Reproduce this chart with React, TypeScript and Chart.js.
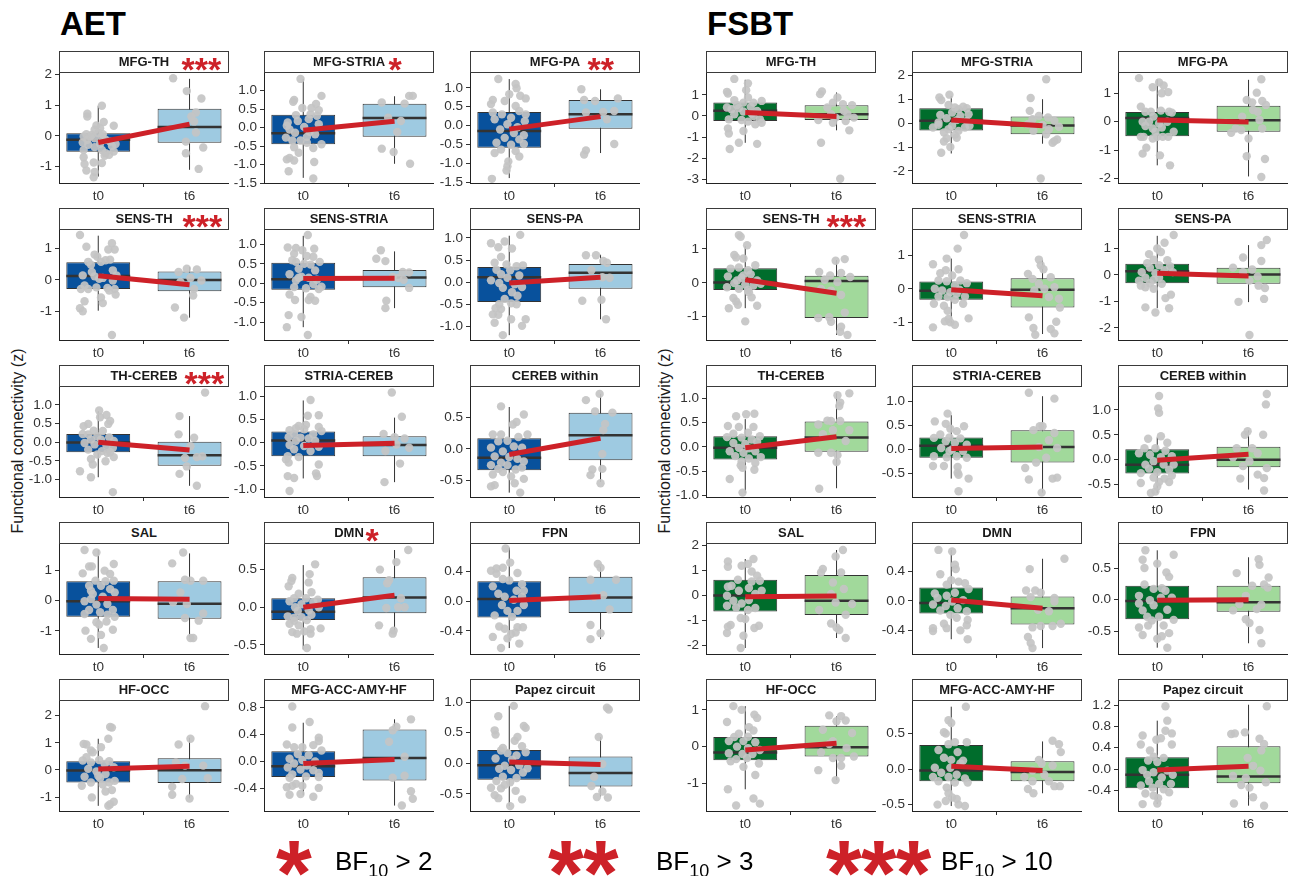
import React, { useEffect, useRef } from "react";
import { Chart, registerables } from "chart.js";

Chart.register(...registerables);

// ---- data -------------------------------------------------------------

const regions = [
  "MFG-TH", "MFG-STRIA", "MFG-PA",
  "SENS-TH", "SENS-STRIA", "SENS-PA",
  "TH-CEREB", "STRIA-CEREB", "CEREB within",
  "SAL", "DMN", "FPN",
  "HF-OCC", "MFG-ACC-AMY-HF", "Papez circuit",
];
const timepoints = ["t0", "t6"];

// number of asterisks per region (BF10 > 2, > 3, > 10)
const aetStars = [3, 1, 2, 3, 0, 0, 3, 0, 0, 0, 1, 0, 0, 0, 0];
const fsbtStars = [0, 0, 0, 3, 0, 0, 0, 0, 0, 0, 0, 0, 0, 0, 0];

// y axis limits per region
const aetYRange = [
  [-1.54, 2.05], [-1.5, 1.48], [-1.51, 1.39],
  [-1.91, 1.58], [-1.46, 1.37], [-1.31, 1.18],
  [-1.47, 1.48], [-1.17, 1.2], [-0.77, 0.99],
  [-1.76, 1.87], [-0.62, 0.84], [-0.71, 0.77],
  [-1.51, 2.54], [-0.73, 0.89], [-0.78, 1.02],
];
const fsbtYRange = [
  [-3.17, 2.03], [-2.51, 2.11], [-2.15, 1.71],
  [-1.69, 1.56], [-1.54, 1.77], [-2.46, 1.69],
  [-1.03, 1.23], [-0.98, 1.29], [-0.75, 1.46],
  [-2.33, 2.07], [-0.72, 0.77], [-0.86, 0.88],
  [-1.75, 1.24], [-0.59, 0.96], [-0.79, 1.28],
];

// y tick labels per region
const aetYTicks = [
  ["-1", "0", "1", "2"],
  ["-1.5", "-1.0", "-0.5", "0.0", "0.5", "1.0"],
  ["-1.5", "-1.0", "-0.5", "0.0", "0.5", "1.0"],
  ["-1", "0", "1"],
  ["-1.0", "-0.5", "0.0", "0.5", "1.0"],
  ["-1.0", "-0.5", "0.0", "0.5", "1.0"],
  ["-1.0", "-0.5", "0.0", "0.5", "1.0"],
  ["-1.0", "-0.5", "0.0", "0.5", "1.0"],
  ["-0.5", "0.0", "0.5"],
  ["-1", "0", "1"],
  ["-0.5", "0.0", "0.5"],
  ["-0.4", "0.0", "0.4"],
  ["-1", "0", "1", "2"],
  ["-0.4", "0.0", "0.4", "0.8"],
  ["-0.5", "0.0", "0.5", "1.0"],
];
const fsbtYTicks = [
  ["-3", "-2", "-1", "0", "1"],
  ["-2", "-1", "0", "1", "2"],
  ["-2", "-1", "0", "1"],
  ["-1", "0", "1"],
  ["-1", "0", "1"],
  ["-2", "-1", "0", "1"],
  ["-1.0", "-0.5", "0.0", "0.5", "1.0"],
  ["-0.5", "0.0", "0.5", "1.0"],
  ["-0.5", "0.0", "0.5", "1.0"],
  ["-2", "-1", "0", "1", "2"],
  ["-0.4", "0.0", "0.4"],
  ["-0.5", "0.0", "0.5"],
  ["-1", "0", "1"],
  ["-0.5", "0.0", "0.5"],
  ["-0.4", "0.0", "0.4", "0.8", "1.2"],
];

// box statistics: [lower whisker, Q1, median, Q3, upper whisker]
const aetBoxT0 = [
  [-1.33, -0.52, -0.13, 0.08, 0.98], [-1.36, -0.45, -0.15, 0.35, 1.32], [-1.38, -0.58, -0.14, 0.36, 1.23],
  [-0.98, -0.29, 0.12, 0.56, 1.4], [-1.13, -0.17, 0.1, 0.53, 1.22], [-1.2, -0.45, 0.11, 0.34, 1.05],
  [-0.94, -0.27, -0.01, 0.22, 0.83], [-0.77, -0.29, 0.05, 0.24, 0.91], [-0.7, -0.34, -0.14, 0.17, 0.67],
  [-1.56, -0.53, -0.02, 0.64, 1.67], [-0.56, -0.17, -0.06, 0.12, 0.56], [-0.63, -0.22, 0.03, 0.27, 0.72],
  [-1.32, -0.46, -0.02, 0.32, 1.15], [-0.5, -0.23, -0.07, 0.15, 0.57], [-0.7, -0.27, -0.03, 0.22, 0.94],
];
const aetBoxT6 = [
  [-1.11, -0.23, 0.29, 0.88, 1.86], [-0.98, -0.25, 0.26, 0.65, 0.85], [-0.72, -0.08, 0.3, 0.68, 0.96],
  [-1.2, -0.36, -0.01, 0.26, 0.41], [-0.64, -0.1, 0.15, 0.34, 0.82], [-0.84, -0.15, 0.21, 0.41, 0.62],
  [-1.17, -0.63, -0.35, 0.01, 0.7], [-0.85, -0.29, -0.05, 0.14, 0.54], [-0.53, -0.18, 0.22, 0.58, 0.88],
  [-1.23, -0.6, -0.1, 0.64, 1.56], [-0.33, -0.08, 0.13, 0.4, 0.76], [-0.51, -0.16, 0.05, 0.33, 0.5],
  [-1.04, -0.48, -0.01, 0.43, 1.19], [-0.65, -0.28, 0.05, 0.47, 0.62], [-0.55, -0.38, -0.16, 0.11, 0.43],
];
const fsbtBoxT0 = [
  [-1.27, -0.24, 0.24, 0.63, 1.71], [-1.27, -0.3, 0.1, 0.63, 1.15], [-1.53, -0.51, 0.13, 0.34, 1.49],
  [-0.75, -0.21, 0.01, 0.43, 1.08], [-1.08, -0.33, -0.06, 0.22, 0.91], [-1.26, -0.32, 0.13, 0.42, 1.47],
  [-0.95, -0.26, -0.02, 0.22, 0.57], [-0.6, -0.17, 0.08, 0.25, 0.71], [-0.67, -0.28, -0.1, 0.21, 0.45],
  [-2.09, -0.63, 0.01, 0.64, 1.47], [-0.52, -0.17, -0.03, 0.18, 0.69], [-0.76, -0.31, -0.02, 0.22, 0.78],
  [-1.16, -0.37, -0.16, 0.26, 1.1], [-0.52, -0.17, -0.02, 0.34, 0.88], [-0.66, -0.36, -0.11, 0.22, 0.91],
];
const fsbtBoxT6 = [
  [-0.68, -0.19, 0.08, 0.51, 1.11], [-0.86, -0.46, -0.1, 0.28, 1.01], [-1.92, -0.35, 0.05, 0.56, 1.47],
  [-1.54, -1.04, 0.05, 0.21, 0.67], [-1.36, -0.56, -0.03, 0.32, 0.86], [-1.03, -0.34, 0.01, 0.27, 1.12],
  [-0.85, -0.1, 0.19, 0.52, 1.1], [-0.89, -0.27, 0.05, 0.4, 1.1], [-0.6, -0.15, 0.0, 0.26, 0.59],
  [-1.69, -0.77, -0.2, 0.83, 1.83], [-0.64, -0.32, -0.1, 0.06, 0.57], [-0.69, -0.19, -0.04, 0.22, 0.67],
  [-0.91, -0.27, -0.02, 0.57, 0.82], [-0.34, -0.17, -0.04, 0.11, 0.39], [-0.69, -0.27, -0.14, 0.43, 1.21],
];

// group means at t0 and t6
const aetMeans = [
  [-0.22, 0.38], [-0.07, 0.17], [-0.09, 0.24],
  [0.13, -0.16], [0.12, 0.13], [-0.02, 0.11],
  [0.0, -0.21], [-0.06, -0.01], [-0.09, 0.17],
  [0.07, 0.05], [0.0, 0.16], [0.01, 0.06],
  [0.04, 0.14], [-0.03, 0.03], [0.02, -0.02],
];
const fsbtMeans = [
  [0.16, -0.03], [0.14, -0.11], [0.06, -0.01],
  [0.09, -0.31], [-0.03, -0.21], [0.06, -0.05],
  [-0.02, 0.21], [0.02, 0.05], [-0.01, 0.11],
  [-0.04, -0.01], [0.01, -0.1], [-0.01, 0.0],
  [-0.09, 0.09], [0.04, -0.02], [-0.02, 0.05],
];

// individual subjects: [horizontal jitter, value]
const aetT0Points = [
  [[0.04,0.98],[-0.12,0.72],[-0.12,0.63],[0.06,0.45],[-0.02,0.34],[0.02,0.25],[-0.04,0.2],[0.17,0.33],[-0.13,0.05],[-0.16,-0.02],[-0.09,-0.02],[-0.12,-0.13],[-0.17,-0.22],[-0.04,-0.08],[0.04,-0.02],[0.08,-0.13],[0.02,-0.26],[0.13,-0.19],[0.19,-0.27],[-0.04,-0.37],[0.04,-0.46],[0.08,-0.57],[0.12,-0.62],[0.07,-0.65],[0.17,-0.51],[-0.16,-0.7],[-0.15,-0.92],[-0.05,-0.87],[0.04,-0.89],[-0.13,-1.13],[-0.04,-1.18],[-0.05,-1.35],[-0.07,0.03],[0,0.09],[0.05,0.05],[-0.11,-0.29],[0.15,-0.33],[-0.16,-0.46]],
  [[-0.03,1.32],[-0.1,0.75],[-0.11,0.7],[0.2,0.86],[0.14,0.64],[0.09,0.53],[0.17,0.47],[-0.01,0.53],[-0.08,0.34],[0.08,0.36],[0.15,0.32],[-0.17,0.14],[-0.06,0.18],[0.01,0.02],[-0.15,-0.05],[0.07,-0.11],[-0.09,-0.14],[0.13,-0.18],[-0.19,-0.27],[-0.03,-0.35],[0.04,-0.41],[0.2,-0.45],[-0.1,-0.53],[0.11,-0.55],[-0.05,-0.68],[-0.15,-0.82],[-0.18,-0.86],[-0.1,-0.89],[0.12,-0.93],[-0.16,-1.18],[0.11,-1.38],[0.04,-0.25],[-0.12,-0.35],[0.17,0.09],[0.06,0.23],[-0.18,0.05]],
  [[-0.12,1.23],[0.07,1.1],[0.08,0.99],[0.12,0.79],[0,0.83],[-0.18,0.68],[-0.05,0.65],[0.18,0.72],[0.07,0.52],[-0.18,0.35],[0.11,0.39],[-0.08,0.3],[0.02,0.21],[-0.16,0.17],[0.17,0.12],[-0.02,0.04],[0.09,-0.04],[-0.1,-0.1],[0.05,-0.19],[0.16,-0.25],[-0.05,-0.32],[0.11,-0.36],[-0.14,-0.45],[0.02,-0.5],[0.16,-0.48],[-0.09,-0.63],[0.07,-0.67],[-0.16,-0.72],[0.11,-0.81],[-0.01,-0.94],[-0.02,-1.07],[-0.03,-1.18],[-0.19,-1.4],[-0.2,0.57],[0.18,0.3]],
  [[-0.2,1.42],[-0.13,1.05],[0.15,1.16],[0.18,0.96],[0.11,0.96],[-0.04,0.8],[-0.01,0.73],[-0.11,0.57],[-0.08,0.48],[0.08,0.62],[0.13,0.64],[0.03,0.57],[0.16,0.3],[-0.07,0.25],[-0.17,0.14],[-0.04,0.11],[0.05,0.06],[0.16,-0.02],[-0.15,-0.18],[-0.19,-0.29],[-0.11,-0.29],[-0.02,-0.24],[0.1,-0.26],[0.12,-0.34],[0.18,-0.29],[0.19,-0.47],[0.03,-0.56],[-0.15,-0.68],[0.05,-0.74],[-0.2,-0.9],[-0.17,-1.0],[0.15,-1.75],[0.01,0.03],[0.2,0.14]],
  [[0.05,1.24],[-0.17,0.92],[-0.08,0.91],[-0.01,0.85],[0.12,0.89],[-0.1,0.76],[0.04,0.7],[0.11,0.68],[-0.12,0.59],[-0.08,0.55],[0.01,0.5],[0.08,0.48],[0.18,0.55],[-0.05,0.37],[0.13,0.33],[-0.15,0.23],[-0.02,0.17],[0.06,0.14],[-0.08,0.07],[0.15,0.09],[0.11,-0.02],[0.2,-0.09],[-0.1,-0.1],[0.03,-0.13],[0.17,-0.15],[-0.15,-0.29],[0.08,-0.35],[-0.09,-0.43],[0.06,-0.43],[0.13,-0.45],[-0.16,-0.82],[-0.02,-0.87],[-0.18,-1.13],[0.05,-1.33],[-0.05,0.14]],
  [[0.12,1.07],[-0.05,0.92],[-0.2,0.88],[-0.12,0.79],[0.03,0.76],[-0.09,0.57],[-0.16,0.44],[-0.03,0.4],[0.08,0.36],[0.15,0.38],[-0.14,0.28],[0.01,0.27],[-0.09,0.18],[0.11,0.15],[-0.02,0.1],[-0.2,0.04],[-0.11,-0.02],[0.06,-0.05],[-0.07,-0.13],[0.14,-0.11],[0.03,-0.23],[0.09,-0.31],[-0.05,-0.38],[0.02,-0.48],[-0.11,-0.5],[0.08,-0.5],[-0.15,-0.59],[-0.09,-0.61],[-0.12,-0.74],[-0.18,-0.73],[0.18,-0.84],[0.02,-0.84],[-0.16,-0.92],[0.14,-0.99],[-0.07,-1.2]],
  [[0.01,0.85],[0.02,0.67],[0.09,0.73],[0.13,0.57],[-0.11,0.49],[-0.16,0.43],[0.11,0.49],[-0.05,0.31],[0.05,0.3],[-0.17,0.22],[-0.11,0.21],[-0.01,0.16],[0.12,0.13],[-0.08,0.07],[0.03,0.07],[0.17,0.03],[-0.15,-0.02],[-0.04,-0.06],[0.09,-0.09],[0.16,-0.15],[-0.11,-0.2],[0.04,-0.24],[0.13,-0.27],[-0.01,-0.33],[0.17,-0.4],[-0.08,-0.45],[0.08,-0.51],[-0.06,-0.6],[-0.2,-0.78],[-0.08,-0.94],[0.16,-1.34],[0.1,-0.29]],
  [[0.08,0.92],[0.05,0.58],[0.17,0.59],[0.03,0.38],[-0.05,0.36],[-0.08,0.31],[0.17,0.34],[-0.15,0.27],[0.01,0.29],[0.2,0.25],[-0.1,0.19],[0.11,0.18],[-0.16,0.12],[-0.03,0.11],[0.06,0.09],[-0.08,0.04],[0.13,0.04],[-0.15,-0.05],[0.01,-0.07],[0.17,-0.09],[-0.1,-0.14],[0.08,-0.18],[-0.17,-0.29],[-0.05,-0.31],[-0.16,-0.43],[0.17,-0.47],[-0.19,-0.36],[0.14,-0.66],[0.15,-0.72],[-0.17,-0.72],[-0.1,-0.76],[-0.15,-1.04]],
  [[-0.09,0.68],[0.16,0.55],[0.08,0.43],[0.04,0.39],[-0.18,0.23],[-0.09,0.23],[-0.02,0.13],[0.1,0.19],[-0.12,0.12],[-0.2,0.02],[0.05,0.04],[0.14,0.02],[-0.07,-0.04],[-0.16,-0.12],[0,-0.13],[0.09,-0.16],[0.16,-0.2],[-0.09,-0.22],[-0.2,-0.26],[-0.02,-0.26],[-0.12,-0.32],[0.07,-0.33],[0.14,-0.3],[-0.07,-0.37],[-0.18,-0.41],[0.02,-0.44],[0.16,-0.48],[0.06,-0.55],[-0.16,-0.58],[-0.2,-0.6],[0.12,-0.7],[0.2,0.23]],
  [[-0.15,1.67],[-0.02,1.59],[-0.1,1.13],[-0.07,1.13],[0.17,1.21],[-0.17,0.9],[0.07,0.99],[0.13,0.88],[-0.03,0.66],[0.08,0.64],[0.17,0.66],[-0.1,0.49],[0.03,0.49],[-0.08,0.33],[0.13,0.38],[0.18,0.27],[-0.06,0.22],[0.05,0.13],[-0.15,-0.02],[-0.02,-0.13],[0.1,-0.11],[-0.1,-0.31],[0.16,-0.31],[0.02,-0.38],[-0.15,-0.44],[0.1,-0.46],[0.18,-0.53],[-0.02,-0.71],[0.01,-0.79],[0.09,-0.69],[0.16,-0.96],[-0.14,-0.99],[0.03,-1.13],[-0.08,-1.26],[0.06,-1.56],[-0.08,0.05]],
  [[0.13,0.57],[0.07,0.44],[-0.12,0.39],[-0.13,0.35],[0.06,0.33],[-0.16,0.28],[-0.05,0.18],[0.09,0.2],[-0.1,0.12],[0.03,0.12],[0.16,0.1],[-0.15,0.08],[0.11,0.07],[-0.02,0.04],[-0.09,0],[0.17,0],[0.06,-0.04],[-0.06,-0.05],[-0.17,-0.12],[-0.1,-0.14],[0.09,-0.1],[-0.02,-0.13],[0.04,-0.17],[-0.15,-0.22],[-0.05,-0.24],[0.19,-0.28],[-0.12,-0.33],[0.01,-0.32],[0.08,-0.35],[-0.07,-0.35],[0.08,-0.29],[0.04,-0.54],[-0.1,-0.18]],
  [[-0.04,0.71],[0.01,0.52],[-0.2,0.41],[-0.14,0.44],[-0.07,0.45],[-0.14,0.37],[0.09,0.38],[-0.07,0.3],[0,0.28],[0.14,0.23],[-0.18,0.2],[0.08,0.14],[0.16,0.14],[-0.12,0.1],[-0.05,0.06],[0.14,0.06],[0.05,0.02],[-0.08,-0.05],[0.16,-0.05],[0.09,-0.13],[-0.02,-0.13],[-0.16,-0.19],[0.03,-0.21],[-0.11,-0.34],[0.09,-0.35],[0.15,-0.35],[-0.05,-0.37],[0.07,-0.42],[0.02,-0.44],[-0.18,-0.48],[-0.02,-0.5],[0.11,-0.57],[-0.09,-0.63]],
  [[0.15,1.56],[0.13,1.58],[0.11,1.15],[-0.16,0.96],[-0.13,0.94],[-0.08,0.72],[-0.06,0.65],[0.03,0.84],[-0.13,0.47],[-0.17,0.35],[-0.08,0.28],[0.01,0.37],[0.12,0.32],[0.07,0.22],[0.17,0.1],[-0.11,0.04],[-0.02,-0.05],[0.08,-0.15],[-0.15,-0.25],[0.02,-0.3],[-0.08,-0.46],[-0.18,-0.58],[0.12,-0.46],[0.05,-0.54],[0.18,-0.4],[0.08,-0.79],[0.15,-0.74],[-0.07,-1.01],[0.17,-1.17],[0.13,-1.26],[0.11,-1.32],[0,-0.21]],
  [[-0.12,0.81],[0.07,0.58],[-0.12,0.5],[0.17,0.35],[0.17,0.3],[-0.18,0.25],[-0.1,0.21],[-0.01,0.21],[0.11,0.24],[0.2,0.16],[-0.06,0.11],[0.06,0.09],[-0.15,0.04],[-0.01,0.02],[0.13,0],[-0.1,-0.03],[0.04,-0.06],[-0.17,-0.09],[-0.03,-0.12],[0.11,-0.13],[0.17,-0.17],[-0.12,-0.19],[0.03,-0.22],[-0.15,-0.24],[0.17,-0.23],[-0.08,-0.33],[-0.01,-0.36],[-0.12,-0.36],[-0.18,-0.38],[0.17,-0.39],[-0.03,-0.48],[0.11,-0.52],[-0.15,-0.49]],
  [[0.05,0.94],[-0.12,0.77],[-0.16,0.54],[-0.15,0.47],[0.16,0.61],[0.18,0.58],[0.09,0.43],[0.06,0.37],[-0.07,0.25],[-0.09,0.21],[0.14,0.28],[-0.02,0.17],[0.08,0.13],[0.18,0.18],[-0.15,0.08],[0.03,0.06],[-0.05,-0.04],[0.11,-0.03],[0.2,-0.08],[-0.11,-0.09],[0.02,-0.11],[0.15,-0.15],[-0.07,-0.22],[0.08,-0.24],[-0.14,-0.29],[0.01,-0.31],[-0.2,-0.4],[-0.09,-0.41],[-0.05,-0.35],[0.07,-0.45],[-0.12,-0.57],[-0.16,-0.52],[0.14,-0.59],[0.01,-0.7]],
];
const aetT6Points = [
  [[-0.18,1.88],[-0.03,1.46],[0.13,1.22],[0.07,0.76],[0.05,0.47],[0.07,0.11],[-0.04,-0.19],[0.15,-0.38],[-0.04,-0.57],[0.1,-1.08],[0.02,0.63]],
  [[-0.14,0.68],[0.11,0.65],[0.16,0.86],[0.2,0.86],[0.03,-0.12],[-0.14,-0.57],[-0.01,-0.66],[0.17,-0.98],[0.07,0.18],[-0.07,0.27]],
  [[-0.21,0.96],[-0.06,0.65],[-0.18,0.68],[0.03,0.36],[0.15,0.39],[0.19,0.72],[-0.16,0.35],[0.07,0.17],[-0.16,-0.65],[-0.18,-0.76],[0.15,-0.48]],
  [[-0.03,0.35],[0.08,0.33],[-0.12,0.25],[0.01,0.06],[0.05,-0.29],[0.04,-0.5],[-0.16,-0.88],[-0.06,-1.2],[0.13,-0.02],[-0.1,-0.07]],
  [[-0.15,0.85],[-0.2,0.63],[-0.1,0.57],[0.09,0.29],[0.16,0.28],[0.04,0.14],[0.1,0.09],[0.16,-0.12],[-0.09,-0.45],[-0.1,-0.64],[-0.02,0.16]],
  [[-0.16,0.61],[-0.05,0.61],[0.03,0.48],[0.07,0.44],[-0.1,0.27],[0.02,0.11],[0.1,0.1],[-0.2,-0.42],[0.01,-0.4],[0.06,-0.84]],
  [[0.17,1.33],[-0.11,0.7],[-0.12,0.21],[0.05,0.12],[0.01,-0.11],[0.08,-0.4],[0.14,-0.38],[-0.05,-0.42],[-0.03,-0.65],[-0.11,-0.85],[0.08,-1.17]],
  [[-0.03,1.08],[0.08,0.56],[-0.12,0.19],[0,0.12],[0.11,0.09],[0.02,-0.04],[-0.1,-0.18],[0.06,-0.45],[-0.11,-0.85],[0.16,-0.11]],
  [[-0.01,0.88],[-0.16,0.78],[0.13,0.58],[-0.06,0.6],[0.05,0.4],[0.03,0.3],[0.02,-0.08],[-0.09,-0.33],[0.02,-0.32],[-0.11,-0.42],[0,-0.55]],
  [[-0.07,1.59],[-0.19,1.23],[-0.05,0.69],[0.01,0.66],[0.15,0.66],[-0.1,0.27],[-0.18,-0.05],[-0.03,-0.11],[0.15,-0.42],[-0.05,-0.57],[0.1,-0.66],[0.04,-1.23],[0.01,-1.23]],
  [[0.15,0.76],[0.02,0.6],[-0.16,0.5],[-0.06,0.36],[-0.08,0.32],[0.11,0],[0.04,0],[-0.09,-0.01],[-0.17,-0.24],[-0.01,-0.31],[-0.02,-0.35],[0.07,0.12]],
  [[-0.03,0.5],[0,0.45],[-0.11,0.29],[0.17,0.29],[0.03,0.08],[-0.07,0.06],[0.1,-0.11],[-0.11,-0.32],[0,-0.43],[-0.11,-0.51]],
  [[0.01,1.15],[-0.12,0.94],[0.17,2.35],[-0.15,0.28],[-0.05,0.16],[0.15,0.16],[0.2,-0.3],[-0.08,-0.33],[-0.19,-0.62],[-0.19,-0.91],[0,-1.05]],
  [[0.18,0.62],[-0.02,0.46],[0.02,0.51],[-0.06,0.29],[0.11,0.07],[-0.02,-0.24],[0.11,-0.21],[0.18,-0.44],[0.2,-0.55],[0.08,-0.65]],
  [[0.09,0.88],[0.07,0.91],[-0.02,0.43],[0.02,-0.01],[-0.07,-0.22],[0.02,-0.46],[-0.1,-0.37],[0.08,-0.56],[-0.04,-0.55]],
];
const fsbtT0Points = [
  [[-0.12,1.75],[0.03,1.54],[-0.2,1.14],[-0.19,1.06],[0.01,1.22],[0.03,0.87],[-0.12,0.75],[0.18,0.71],[0.09,0.63],[-0.2,0.4],[-0.07,0.37],[0.06,0.43],[-0.02,0.21],[-0.12,0.08],[0.13,0.24],[0.09,0],[-0.18,-0.16],[-0.04,-0.19],[0.16,-0.16],[0.03,-0.27],[0.11,-0.4],[-0.19,-0.59],[-0.18,-0.83],[-0.02,-0.71],[-0.07,-1.27],[0.13,-1.32],[-0.17,-1.56],[0.18,-0.32],[-0.09,0.52],[-0.02,0.63],[0.07,0.11],[-0.15,0.32]],
  [[-0.13,1.08],[-0.11,0.97],[-0.02,1.2],[-0.03,0.77],[0.04,0.66],[0.13,0.69],[0.08,0.59],[0.17,0.63],[0.19,0.38],[-0.12,0.35],[0.01,0.45],[0.1,0.31],[-0.05,0.21],[0.06,0.13],[0.17,0.1],[-0.14,-0.07],[0.01,-0.11],[0.15,-0.18],[-0.03,-0.25],[0.08,-0.32],[-0.08,-0.39],[0.04,-0.49],[-0.05,-0.63],[0.06,-0.61],[-0.08,-0.77],[-0.01,-1],[-0.11,-1.24],[-0.14,0.03],[0.2,-0.11],[-0.2,-0.18]],
  [[-0.2,1.53],[-0.05,1.21],[0.02,1.38],[0.07,1.27],[0.05,1.0],[0.12,1.04],[-0.18,0.53],[-0.13,0.35],[-0.07,0.35],[0.04,0.39],[0.13,0.35],[0.16,0.32],[-0.04,0.18],[0.11,0],[-0.13,-0.15],[-0.05,-0.24],[0.05,-0.2],[0.18,-0.35],[-0.18,-0.53],[-0.15,-0.53],[-0.05,-0.59],[0,-0.53],[0.06,-0.53],[0.12,-0.53],[-0.12,-0.91],[-0.16,-1.12],[0.03,-1.18],[0.14,-1.53],[-0.09,0],[0.02,-0.06],[-0.16,0],[-0.02,-0.35]],
  [[-0.07,1.41],[-0.05,1.36],[0.02,1.11],[-0.12,0.82],[-0.1,0.75],[-0.02,0.72],[-0.16,0.42],[-0.07,0.45],[0.03,0.37],[0.11,0.52],[0.06,0.25],[-0.19,0.19],[-0.04,0.15],[0.13,0.07],[-0.12,-0.01],[0,-0.05],[0.09,-0.08],[-0.2,-0.13],[-0.07,-0.18],[0.03,-0.21],[0.17,-0.03],[-0.13,-0.45],[0.04,-0.28],[-0.1,-0.55],[-0.08,-0.65],[0.13,-0.68],[-0.18,-0.75],[0,-1.14],[-0.02,0.22],[-0.09,0.07],[0.07,-0.43]],
  [[0.14,1.62],[0.07,1.21],[-0.05,0.91],[-0.2,0.74],[-0.06,0.56],[0.08,0.59],[-0.12,0.47],[0.01,0.4],[0.1,0.25],[-0.14,0.25],[-0.05,0.23],[0.17,0.17],[0.04,0.1],[-0.18,0],[-0.1,-0.05],[-0.01,-0.1],[0.09,-0.03],[0.15,-0.23],[-0.14,-0.23],[-0.04,-0.25],[0.04,-0.33],[0.13,-0.45],[-0.19,-0.45],[-0.08,-0.51],[-0.04,-0.66],[0.19,-0.89],[-0.03,-0.91],[-0.01,-1.01],[-0.07,-0.98],[0.04,-1.08],[-0.2,-1.16],[0.06,-0.15]],
  [[0.18,1.5],[0.08,1.21],[0,0.99],[-0.09,0.78],[0.04,0.86],[-0.04,0.57],[-0.11,0.44],[0.11,0.55],[0.02,0.36],[-0.08,0.27],[0.14,0.32],[-0.17,0.1],[-0.02,0.06],[0.08,0.17],[0.17,0.1],[-0.13,-0.11],[0.02,-0.11],[-0.18,-0.41],[-0.08,-0.32],[0.05,-0.34],[-0.04,-0.53],[-0.13,-0.47],[0.15,-0.75],[0.09,-0.88],[-0.13,-1.23],[0.13,-1.26],[-0.02,-1.42],[-0.04,-0.19],[-0.2,-0.22]],
  [[0.01,0.67],[0.1,0.68],[-0.1,0.63],[-0.19,0.43],[-0.07,0.41],[0.09,0.41],[-0.13,0.27],[0.03,0.29],[0.16,0.22],[-0.2,0.2],[-0.04,0.19],[0.07,0.15],[-0.13,0.08],[0,0.06],[0.13,0.1],[-0.07,-0.02],[0.04,-0.03],[-0.17,-0.09],[0.11,-0.09],[-0.02,-0.12],[-0.11,-0.19],[0.17,-0.21],[0.04,-0.24],[-0.04,-0.3],[0.11,-0.33],[-0.05,-0.38],[-0.03,-0.43],[0.1,-0.47],[-0.17,-0.66],[-0.03,-0.94]],
  [[-0.04,0.74],[-0.18,0.58],[-0.06,0.53],[0.14,0.48],[-0.01,0.43],[0.06,0.38],[-0.12,0.31],[-0.02,0.25],[0.1,0.23],[-0.19,0.24],[-0.06,0.17],[0.04,0.14],[0.17,0.1],[-0.11,0.03],[0.01,0],[0.13,-0.03],[-0.19,-0.14],[-0.05,-0.16],[0.06,-0.14],[0.17,-0.17],[-0.08,-0.34],[-0.2,-0.34],[0.07,-0.36],[0.07,-0.48],[0.08,-0.52],[0.19,-0.6],[0.08,-0.86],[-0.02,-0.03]],
  [[0.02,1.28],[0.01,1.03],[0.02,0.94],[0.04,0.47],[-0.1,0.42],[-0.14,0.23],[0.11,0.34],[-0.02,0.23],[0.09,0.18],[-0.2,0.13],[-0.08,0.1],[0.04,0.05],[0.16,0.07],[-0.04,-0.03],[-0.13,-0.1],[0.07,-0.1],[0.18,-0.1],[-0.09,-0.18],[0.13,-0.2],[0,-0.25],[-0.18,-0.27],[0.16,-0.32],[-0.04,-0.36],[0.08,-0.38],[0.02,-0.45],[0.13,-0.45],[-0.18,-0.47],[0,-0.54],[-0.02,-0.64],[-0.07,-0.67]],
  [[0.09,1.47],[-0.19,1.37],[-0.19,1.16],[-0.04,1.2],[0.03,1.27],[0.07,0.97],[0.13,0.8],[-0.08,0.64],[0.16,0.6],[0.07,0.57],[-0.19,0.36],[-0.15,0.4],[0.04,0.31],[0.18,0.2],[-0.07,0.2],[0.11,0.07],[-0.2,0],[-0.13,-0.2],[0.04,-0.17],[-0.04,-0.31],[-0.2,-0.4],[-0.1,-0.47],[0.03,-0.57],[0.11,-0.49],[-0.05,-0.89],[0,-0.93],[-0.16,-1.17],[-0.19,-1.24],[0.15,-1.2],[0.1,-1.29],[-0.02,-1.6],[-0.2,-1.49],[-0.05,-2.09]],
  [[-0.14,0.69],[0.01,0.67],[0.04,0.49],[0.05,0.43],[-0.12,0.36],[0,0.28],[0.08,0.26],[0.15,0.24],[-0.05,0.22],[0.19,0.16],[-0.18,0.1],[0.04,0.11],[-0.05,0.07],[-0.15,0.04],[0.13,0.01],[0.01,-0.01],[-0.2,-0.05],[-0.06,-0.07],[0.07,-0.1],[-0.12,-0.13],[0.17,-0.14],[-0.01,-0.19],[0.06,-0.23],[0.18,-0.26],[-0.08,-0.31],[0.17,-0.33],[-0.2,-0.37],[-0.05,-0.37],[-0.2,-0.41],[0.1,-0.4],[0.18,-0.52]],
  [[-0.13,0.78],[0.18,0.71],[-0.16,0.63],[-0.14,0.5],[0,0.57],[0.1,0.43],[0.13,0.36],[-0.14,0.24],[0.05,0.18],[-0.04,0.17],[0.09,0.14],[-0.2,0.06],[-0.08,-0.01],[0.04,0.03],[0.16,0.03],[-0.2,-0.06],[-0.04,-0.09],[0.11,-0.16],[-0.16,-0.17],[-0.11,-0.27],[0.02,-0.27],[0.18,-0.32],[-0.06,-0.33],[-0.2,-0.44],[-0.1,-0.41],[0.07,-0.41],[0.13,-0.53],[0.05,-0.58],[-0.16,-0.56],[0.11,-0.76],[0,-0.62]],
  [[-0.13,1.1],[-0.04,1.0],[0.1,0.87],[0.13,0.78],[-0.2,0.67],[0.04,0.53],[0.09,0.44],[-0.07,0.35],[-0.12,0.26],[0.03,0.27],[-0.18,0.15],[-0.02,0.15],[0.11,0.12],[-0.09,0],[0.03,-0.04],[0.16,-0.09],[-0.18,-0.18],[-0.03,-0.2],[0.08,-0.2],[-0.1,-0.34],[0.02,-0.31],[0.15,-0.46],[-0.16,-0.4],[-0.02,-0.55],[0.11,-0.77],[-0.19,-1.16],[0.09,-1.41],[0.16,-1.55],[-0.1,-1.6]],
  [[0.16,0.88],[-0.03,0.69],[0,0.65],[-0.08,0.52],[-0.06,0.5],[0.04,0.38],[0.17,0.38],[-0.03,0.35],[-0.14,0.27],[0.07,0.24],[-0.08,0.16],[0,0.13],[0.13,0.12],[0.1,0.08],[-0.18,0.02],[-0.01,0.02],[-0.11,-0.05],[0.06,-0.08],[-0.03,-0.11],[-0.2,-0.11],[0.15,-0.13],[-0.14,-0.17],[0.04,-0.19],[0.18,-0.19],[-0.05,-0.26],[-0.03,-0.34],[0.01,-0.4],[0.06,-0.42],[-0.06,-0.45],[0.08,-0.5],[-0.15,-0.5],[0.15,-0.52]],
  [[0.09,1.18],[-0.16,0.63],[0.09,0.72],[0.11,0.91],[0.16,0.67],[-0.01,0.55],[0.04,0.58],[-0.18,0.46],[0.16,0.46],[-0.08,0.35],[-0.04,0.23],[0.07,0.21],[-0.1,0.16],[0,0.13],[-0.16,-0.02],[-0.04,-0.06],[0.11,-0.03],[-0.11,-0.11],[0.05,-0.16],[0.17,-0.11],[-0.09,-0.23],[0.02,-0.28],[0.15,-0.28],[-0.18,-0.31],[-0.05,-0.35],[0.07,-0.38],[-0.13,-0.46],[-0.04,-0.5],[0.13,-0.44],[0.01,-0.55],[-0.16,-0.66],[0,-0.65]],
];
const fsbtT6Points = [
  [[-0.18,1.03],[-0.16,1.16],[-0.04,0.63],[0.07,0.56],[0.17,0.51],[0.08,0.24],[0.12,0.08],[-0.06,0.08],[-0.2,-0.19],[-0.04,-0.32],[0.1,-0.24],[0.14,-0.68],[-0.17,-1.27],[0.04,-2.97],[-0.1,0.4],[0.01,0.87],[0.19,-0.08],[-0.01,-0.08]],
  [[-0.13,1.06],[0.04,1.85],[-0.14,0.52],[-0.04,0.31],[-0.11,0.17],[0.06,0.24],[0.13,0.1],[0,-0.07],[0.18,-0.15],[-0.1,-0.32],[0.04,-0.46],[0.16,-0.68],[0.11,-0.82],[0.13,-0.75],[-0.02,-2.32],[0.07,-0.25],[-0.16,-0.04]],
  [[0.14,1.49],[0.09,1.02],[-0.02,0.76],[0.04,0.68],[0.15,0.73],[0.19,0.59],[0.05,0.41],[0.1,0.35],[-0.14,-0.24],[-0.19,-0.39],[-0.08,-0.29],[0.15,-0.24],[0.12,0.06],[0,-0.59],[-0.02,-1.21],[0.18,-1.31],[0.14,-1.94],[-0.07,0.18]],
  [[0.09,0.7],[-0.01,0.65],[-0.19,0.32],[-0.07,0.22],[0.05,0.29],[-0.13,0.09],[0.01,0.02],[-0.17,-0.18],[0.05,-0.36],[0.09,-0.88],[-0.2,-1.04],[-0.08,-1.02],[-0.06,-1.15],[0.05,-1.3],[0.04,-1.45],[0.12,-1.54],[-0.06,-0.23],[0.15,0.17]],
  [[-0.04,0.88],[-0.16,0.45],[-0.02,0.71],[0.01,0.59],[0.09,0.35],[-0.11,0.3],[-0.04,0.15],[0.13,0.05],[0.02,0],[-0.09,-0.05],[0.18,-0.3],[0.07,-0.25],[0.19,-0.56],[-0.15,-0.86],[0.15,-0.99],[-0.1,-1.18],[0.09,-1.21],[0.13,-1.34],[-0.08,-1.38]],
  [[0.2,1.31],[0.14,1.12],[-0.06,0.65],[0.14,0.52],[-0.17,0.27],[0.04,0.2],[-0.06,0.1],[0.1,-0.06],[0.01,-0.22],[0.18,-0.5],[0.11,-0.41],[-0.11,-1.02],[0.17,-0.91],[0.01,-2.27]],
  [[0.14,1.1],[0.01,1.06],[0.04,0.91],[0.03,0.84],[-0.1,0.54],[-0.06,0.53],[0.04,0.53],[-0.2,0.46],[-0.04,0.34],[0.14,0.34],[-0.15,0.26],[-0.2,-0.12],[-0.06,-0.12],[0.01,-0.17],[0,-0.31],[-0.19,-0.86],[0.1,0.12]],
  [[-0.15,1.17],[0.13,1.05],[-0.03,0.48],[0,0.48],[0.13,0.34],[-0.1,0.4],[0.07,0.19],[-0.04,0.05],[0.16,0.03],[-0.07,-0.27],[-0.19,-0.38],[0.16,-0.58],[0.11,-0.6],[-0.15,-0.62],[-0.01,-0.89],[0.04,-0.17]],
  [[0.2,1.32],[0.19,1.11],[-0.04,0.5],[0.16,0.5],[-0.01,0.57],[-0.13,0.23],[0.04,0.23],[0.1,0.13],[-0.17,0.05],[0.01,-0.03],[0.2,-0.17],[-0.06,-0.13],[0.1,-0.3],[-0.09,-0.38],[0.17,-0.37],[0.17,-0.62]],
  [[0.07,1.83],[-0.01,1.57],[-0.15,1.07],[-0.17,0.93],[0.05,0.93],[-0.04,0.53],[0.08,0.27],[-0.06,0.07],[-0.01,-0.27],[-0.19,-0.57],[0.1,-0.76],[-0.06,-1.11],[0,-1.27],[0.03,-1.37],[0.1,-1.69],[0.17,-0.33]],
  [[0.24,0.57],[-0.14,0.43],[-0.08,0.14],[-0.02,0.11],[-0.18,0.14],[0.13,0.04],[-0.13,0.05],[0.13,-0.01],[-0.05,-0.12],[0.07,-0.14],[0.2,-0.31],[0.11,-0.34],[-0.11,-0.36],[-0.02,-0.34],[-0.16,-0.49],[-0.13,-0.57],[-0.11,-0.64]],
  [[0.11,0.64],[0.12,0.55],[-0.13,0.42],[0.22,0.35],[0.17,0.24],[0.04,0.22],[0.21,0.19],[-0.03,0.06],[-0.1,-0.07],[0.14,-0.08],[0.09,-0.15],[-0.17,-0.17],[-0.03,-0.31],[0.01,-0.37],[0.12,-0.48],[0.14,-0.69]],
  [[-0.08,0.85],[0.05,0.83],[0,0.69],[0.1,0.71],[-0.15,0.46],[0.17,0.37],[-0.04,0.15],[-0.08,0.07],[0.11,-0.04],[-0.17,-0.16],[-0.04,-0.31],[0.05,-0.31],[0.19,-0.27],[-0.2,-0.64],[0.05,-0.52],[-0.01,-0.91]],
  [[0.11,0.4],[0.18,0.35],[0.2,0.24],[-0.04,0.13],[-0.01,0.08],[0.11,0.05],[-0.11,-0.02],[-0.2,-0.11],[0.02,-0.08],[-0.11,-0.17],[0.07,-0.17],[0.13,-0.24],[0.19,-0.24],[-0.16,-0.28],[-0.1,-0.34]],
  [[0.2,1.18],[-0.19,0.66],[-0.15,0.67],[-0.04,0.69],[0.12,0.57],[0.17,0.47],[0.14,0.35],[-0.01,0.21],[0.05,0.06],[0.13,-0.03],[-0.17,-0.13],[-0.03,-0.17],[0.19,-0.25],[-0.08,-0.3],[-0.16,-0.65],[0.05,-0.53],[0.17,-0.69],[0.01,-0.35]],
];

// ---- layout / style ------------------------------------------------------

const PLOT_W = 170;
const PLOT_H = 110;
const STRIP_H = 22;
const ROW_STEP = 157;
const FIRST_STRIP_TOP = 51;
const AET_LEFTS = [59, 264, 470];
const FSBT_LEFTS = [706, 912, 1118];

// horizontal placement of the asterisks inside each strip (px from strip edge)
const AET_STAR_X = [124, 126, 119, 125, 0, 0, 127, 0, 0, 0, 103, 0, 0, 0, 0];
const FSBT_STAR_X = [0, 0, 0, 122, 0, 0, 0, 0, 0, 0, 0, 0, 0, 0, 0];

const Y_W = 46;     // room for y tick labels
const X_H = 26;     // room for x tick labels
const PAD_T = 10;
const PAD_R = 4;

const SANS = "'Liberation Sans', Arial, Helvetica, sans-serif";
const RED = "#cd2128";
const INK = "#333333";
const POINT = "rgba(196,196,196,0.92)";

const AET_COLORS = ["#08519c", "#9ecae1"];
const FSBT_COLORS = ["#006d2c", "#a1d99b"];

type Pair = number[];

interface PanelProps {
  left: number;
  top: number;
  yRange: number[];
  yTicks: string[];
  box0: number[];
  box6: number[];
  means: number[];
  pts0: Pair[];
  pts6: Pair[];
  colors: string[];
}

function Panel(p: PanelProps) {
  const ref = useRef<HTMLCanvasElement | null>(null);
  const W = Y_W + PLOT_W + PAD_R;
  const H = PAD_T + PLOT_H + X_H;

  useEffect(() => {
    if (!ref.current) return;
    const half = 0.35; // half box width in x units
    const tickFont = { family: SANS, size: 13.5 };
    const chart = new Chart(ref.current, {
      type: "bar",
      data: {
        datasets: [
          {
            type: "line",
            data: [{ x: 0, y: p.means[0] }, { x: 1, y: p.means[1] }],
            borderColor: RED,
            borderWidth: 5,
            pointRadius: 0,
            borderCapStyle: "butt",
            order: 0,
          } as any,
          {
            type: "scatter",
            data: [
              ...p.pts0.map(([dx, y]) => ({ x: dx, y })),
              ...p.pts6.map(([dx, y]) => ({ x: 1 + dx, y })),
            ],
            pointRadius: 4.2,
            pointBackgroundColor: POINT,
            backgroundColor: POINT,
            borderWidth: 0,
            pointBorderWidth: 0,
            order: 1,
          } as any,
          {
            type: "line",
            data: [
              { x: -half, y: p.box0[2] }, { x: half, y: p.box0[2] },
              { x: 0.5, y: null },
              { x: 1 - half, y: p.box6[2] }, { x: 1 + half, y: p.box6[2] },
            ],
            borderColor: INK,
            borderWidth: 2.5,
            pointRadius: 0,
            spanGaps: false,
            borderCapStyle: "butt",
            order: 2,
          } as any,
          {
            type: "bar",
            data: [
              { x: 0, y: [p.box0[1], p.box0[3]] },
              { x: 1, y: [p.box6[1], p.box6[3]] },
            ],
            backgroundColor: p.colors,
            borderColor: INK,
            borderWidth: 1,
            borderSkipped: false,
            grouped: false,
            categoryPercentage: 1,
            barPercentage: 2 * half,
            order: 3,
          } as any,
          {
            type: "line",
            data: [
              { x: 0, y: p.box0[0] }, { x: 0, y: p.box0[4] },
              { x: 0.5, y: null },
              { x: 1, y: p.box6[0] }, { x: 1, y: p.box6[4] },
            ],
            borderColor: INK,
            borderWidth: 1,
            pointRadius: 0,
            spanGaps: false,
            order: 4,
          } as any,
        ],
      },
      options: {
        responsive: false,
        maintainAspectRatio: false,
        animation: false,
        devicePixelRatio: 1,
        events: [],
        layout: { padding: { top: PAD_T, right: PAD_R, left: 0, bottom: 0 } },
        plugins: { legend: { display: false }, tooltip: { enabled: false } },
        scales: {
          x: {
            type: "linear",
            min: -0.43,
            max: 1.43,
            offset: false,
            afterBuildTicks: (s: any) => { s.ticks = [{ value: 0 }, { value: 1 }]; },
            afterFit: (s: any) => { s.height = X_H; s.paddingLeft = 0; s.paddingRight = 0; },
            ticks: {
              callback: (v: any) => (v === 0 ? timepoints[0] : timepoints[1]),
              font: tickFont,
              color: INK,
              padding: 1,
              maxRotation: 0,
              autoSkip: false,
            },
            grid: { drawOnChartArea: false, drawTicks: true, tickLength: 4, color: INK, lineWidth: 1 },
            border: { display: true, color: "#222", width: 1 },
          },
          y: {
            type: "linear",
            min: p.yRange[0],
            max: p.yRange[1],
            afterBuildTicks: (s: any) => { s.ticks = p.yTicks.map((t) => ({ value: parseFloat(t) })); },
            afterFit: (s: any) => { s.width = Y_W; s.paddingTop = 0; s.paddingBottom = 0; },
            ticks: {
              callback: (_v: any, i: number) => p.yTicks[i],
              font: tickFont,
              color: INK,
              padding: 3,
              autoSkip: false,
            },
            grid: { drawOnChartArea: false, drawTicks: true, tickLength: 4, color: INK, lineWidth: 1 },
            border: { display: true, color: "#222", width: 1 },
          },
        },
      } as any,
    });
    return () => chart.destroy();
  }, []);

  return (
    <canvas
      ref={ref}
      width={W}
      height={H}
      style={{ position: "absolute", left: p.left - Y_W, top: p.top - PAD_T, width: W, height: H }}
    />
  );
}

function Strip({ left, top, title, stars, starX }: { left: number; top: number; title: string; stars: number; starX: number }) {
  return (
    <div
      style={{
        position: "absolute",
        left,
        top,
        width: PLOT_W,
        height: STRIP_H,
        boxSizing: "border-box",
        border: "1.5px solid #3a3a3a",
        background: "#fff",
      }}
    >
      <div
        style={{
          position: "absolute",
          left: 0,
          right: 0,
          top: 2,
          textAlign: "center",
          fontFamily: SANS,
          fontWeight: 700,
          fontSize: 13,
          lineHeight: "15px",
          color: "#1a1a1a",
          whiteSpace: "nowrap",
        }}
      >
        {title}
      </div>
      {stars > 0 && (
        <div
          style={{
            position: "absolute",
            left: starX - 2.5,
            top: 0,
            fontFamily: SANS,
            fontWeight: 700,
            fontSize: 34,
            lineHeight: "34px",
            color: RED,
            whiteSpace: "nowrap",
          }}
        >
          {"*".repeat(stars)}
        </div>
      )}
    </div>
  );
}

function Study({
  name, lefts, stars, starX, yRange, yTicks, box0, box6, means, pts0, pts6, colors,
}: {
  name: string; lefts: number[]; stars: number[]; starX: number[]; yRange: number[][]; yTicks: string[][];
  box0: number[][]; box6: number[][]; means: number[][]; pts0: Pair[][]; pts6: Pair[][]; colors: string[];
}) {
  const items = regions.map((title, i) => {
    const col = i % 3;
    const row = Math.floor(i / 3);
    const stripTop = FIRST_STRIP_TOP + row * ROW_STEP;
    return { title, i, left: lefts[col], stripTop };
  });
  return (
    <>
      <div
        style={{
          position: "absolute",
          left: lefts[0] + 1,
          top: 7,
          fontFamily: SANS,
          fontWeight: 700,
          fontSize: 33,
          lineHeight: "33px",
          color: "#000",
        }}
      >
        {name}
      </div>
      <div
        style={{
          position: "absolute",
          left: lefts[0] - 41 - 110,
          top: 431,
          width: 220,
          height: 20,
          transform: "rotate(-90deg)",
          transformOrigin: "110px 10px",
          textAlign: "center",
          fontFamily: SANS,
          fontSize: 16,
          lineHeight: "20px",
          color: "#1a1a1a",
          whiteSpace: "nowrap",
        }}
      >
        Functional connectivity (z)
      </div>
      {items.map((it) => (
        <Panel
          key={`p${it.i}`}
          left={it.left}
          top={it.stripTop + STRIP_H}
          yRange={yRange[it.i]}
          yTicks={yTicks[it.i]}
          box0={box0[it.i]}
          box6={box6[it.i]}
          means={means[it.i]}
          pts0={pts0[it.i]}
          pts6={pts6[it.i]}
          colors={colors}
        />
      ))}
      {items.map((it) => (
        <Strip
          key={`s${it.i}`}
          left={it.left}
          top={it.stripTop}
          title={it.title}
          stars={stars[it.i]}
          starX={starX[it.i]}
        />
      ))}
    </>
  );
}

function LegendItem({ starLeft, textLeft, stars, threshold }: { starLeft: number; textLeft: number; stars: number; threshold: string }) {
  return (
    <>
      <div
        style={{
          position: "absolute",
          left: starLeft,
          top: 827,
          fontFamily: SANS,
          fontWeight: 700,
          fontSize: 92,
          lineHeight: "92px",
          color: RED,
          whiteSpace: "nowrap",
          letterSpacing: -1,
        }}
      >
        {"*".repeat(stars)}
      </div>
      <div
        style={{
          position: "absolute",
          left: textLeft,
          top: 848,
          fontFamily: SANS,
          fontSize: 26,
          lineHeight: "26px",
          color: "#000",
          whiteSpace: "nowrap",
        }}
      >
        BF<sub style={{ fontSize: 18, verticalAlign: "-7px", lineHeight: 0 }}>10</sub>{` > ${threshold}`}
      </div>
    </>
  );
}

export default function App() {
  return (
    <div
      style={{
        position: "fixed",
        left: 0,
        top: 0,
        width: 1290,
        height: 876,
        overflow: "hidden",
        background: "#fff",
      }}
    >
      <Study
        name="AET"
        lefts={AET_LEFTS}
        stars={aetStars}
        starX={AET_STAR_X}
        yRange={aetYRange}
        yTicks={aetYTicks}
        box0={aetBoxT0}
        box6={aetBoxT6}
        means={aetMeans}
        pts0={aetT0Points}
        pts6={aetT6Points}
        colors={AET_COLORS}
      />
      <Study
        name="FSBT"
        lefts={FSBT_LEFTS}
        stars={fsbtStars}
        starX={FSBT_STAR_X}
        yRange={fsbtYRange}
        yTicks={fsbtYTicks}
        box0={fsbtBoxT0}
        box6={fsbtBoxT6}
        means={fsbtMeans}
        pts0={fsbtT0Points}
        pts6={fsbtT6Points}
        colors={FSBT_COLORS}
      />
      <LegendItem starLeft={276} textLeft={335} stars={1} threshold="2" />
      <LegendItem starLeft={548} textLeft={656} stars={2} threshold="3" />
      <LegendItem starLeft={826} textLeft={941} stars={3} threshold="10" />
    </div>
  );
}
